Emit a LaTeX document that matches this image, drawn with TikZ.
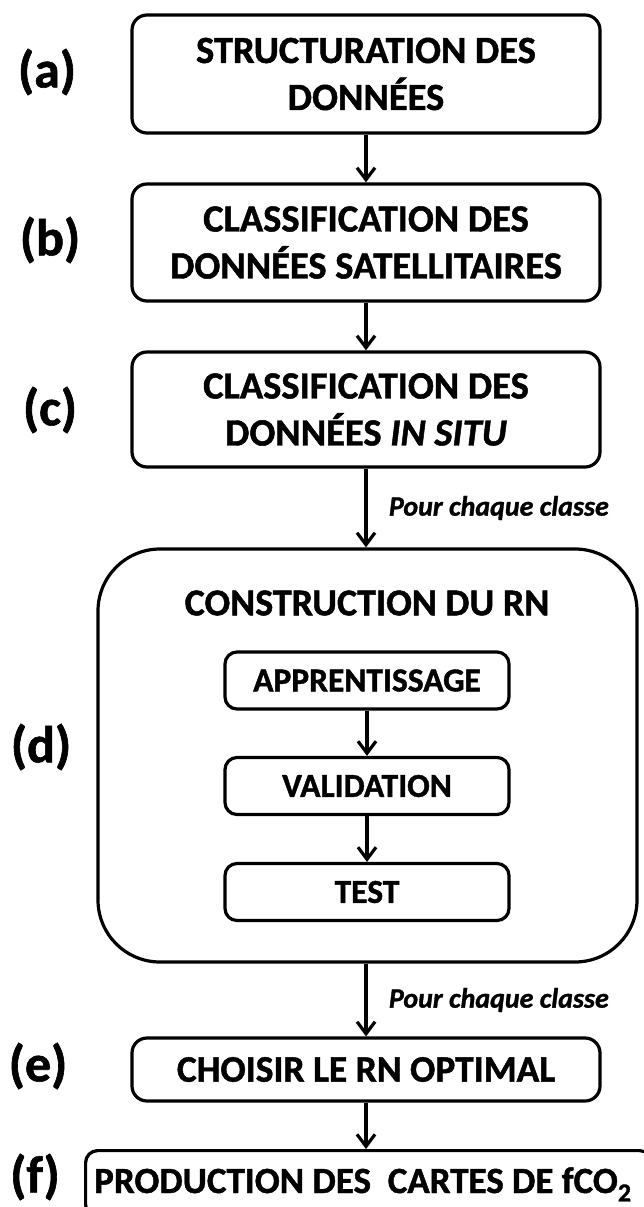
\documentclass[tikz,border=0pt]{standalone}
\usepackage{fontspec}
\setmainfont{Carlito}[BoldFeatures={FakeBold=1.2},BoldItalicFeatures={FakeBold=1.2}]
\usetikzlibrary{arrows.meta,calc}
\begin{document}
\begin{tikzpicture}[x=1pt,y=1pt,
  lw/.style={line width=3.2pt},
  box/.style={draw, lw, rounded corners=15pt, align=center, inner sep=0pt,
    minimum width=468pt, font=\bfseries\fontsize{38.5}{47}\selectfont},
  sbox/.style={draw, lw, rounded corners=12pt, align=center, inner sep=0pt,
    minimum width=284pt, minimum height=57pt, font=\bfseries\fontsize{33.5}{40}\selectfont},
  big/.style={draw, lw, rounded corners=62pt, inner sep=0pt},
  steplabel/.style={font=\bfseries\fontsize{52}{60}\selectfont, inner sep=0pt},
  note/.style={font=\bfseries\itshape\fontsize{28}{32}\selectfont, inner sep=0pt, anchor=east},
  flow/.style={lw, -{Straight Barb[length=12pt,width=18pt,line width=3.2pt]}}
]
\useasboundingbox (0,0) rectangle (644,-1207);
\clip (0,0) rectangle (644,-1207);
\fill[white] (0,0) rectangle (644,-1207);

% main boxes
\node[box, minimum height=118pt] (a) at (366,-74) {STRUCTURATION DES\\DONNÉES};
\node[box, minimum height=117pt] (b) at (366,-242.5) {CLASSIFICATION DES\\DONNÉES SATELLITAIRES};
\node[box, minimum height=115pt] (c) at (366,-409.5) {CLASSIFICATION DES\\DONNÉES \textit{IN SITU}};
\node[big, minimum width=539pt, minimum height=413pt] (d) at (367.5,-755.5) {};
\node[font=\bfseries\fontsize{38}{46}\selectfont, inner sep=0pt] (dt) at (367,-603) {CONSTRUCTION DU RN};
\node[sbox] (app) at (367,-680.5) {APPRENTISSAGE};
\node[sbox] (val) at (367,-786) {VALIDATION};
\node[sbox] (tst) at (367,-892) {TEST};
\node[box, minimum height=63pt, font=\bfseries\fontsize{37.5}{46}\selectfont] (e) at (366,-1069.5) {CHOISIR LE RN OPTIMAL};
\node[draw, lw, rounded corners=12pt, minimum width=566pt, minimum height=66pt,
  inner sep=0pt, anchor=north west] (f) at (84,-1149) {};
\node[font=\bfseries\fontsize{37}{46}\selectfont, inner sep=0pt, anchor=base west] (ft)
  at (94,-1193) {PRODUCTION DES\ \ CARTES DE fCO\textsubscript{2}};

% step labels
\node[steplabel] (la) at (47,-72) {(a)};
\node[steplabel] (lb) at (50,-240) {(b)};
\node[steplabel] (lc) at (50,-410) {(c)};
\node[steplabel] (ld) at (41,-747) {(d)};
\node[steplabel] (le) at (38,-1066) {(e)};
\node[steplabel] (lf) at (35,-1177) {(f)};

% notes
\node[note] (n1) at (609,-508) {Pour chaque classe};
\node[note] (n2) at (609,-1000) {Pour chaque classe};

% connectors
\draw[flow] (a.south) -- (b.north);
\draw[flow] (b.south) -- (c.north);
\draw[flow] (c.south) -- (c.south |- d.north);
\draw[flow] (app.south) -- (val.north);
\draw[flow] (val.south) -- (tst.north);
\draw[flow] (e.south |- d.south) -- (e.north);
\draw[flow] (e.south) -- (e.south |- f.north);
\end{tikzpicture}
\end{document}
